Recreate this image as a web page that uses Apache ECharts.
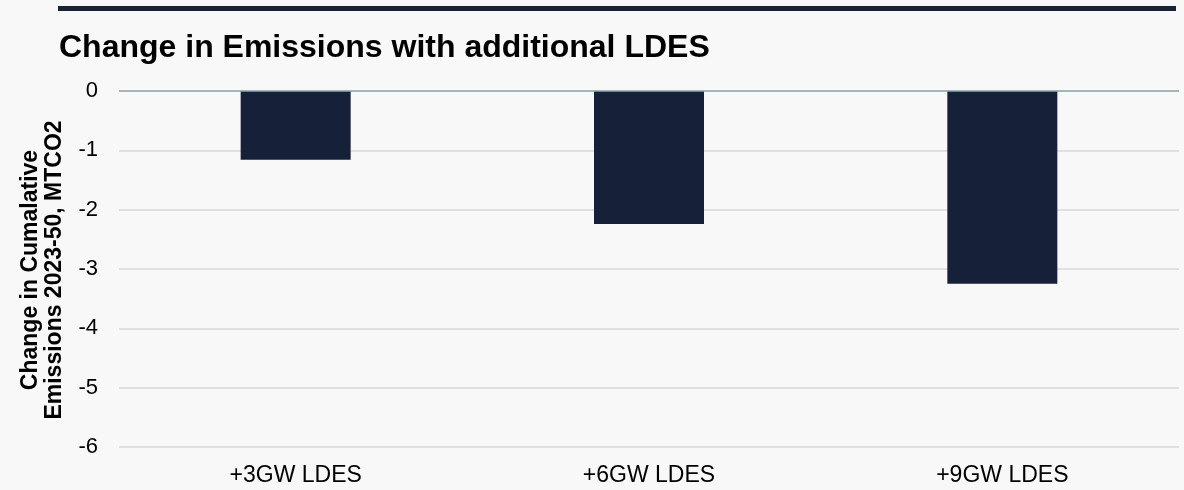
<!DOCTYPE html>
<html>
<head>
<meta charset="utf-8">
<script src="https://cdn.jsdelivr.net/npm/echarts@6/dist/echarts.min.js"></script>
<style>
html,body{margin:0;padding:0;background:#f8f8f8;}
#chart{width:1184px;height:490px;}
</style>
</head>
<body>
<div id="chart"></div>
<script>
const categories = ['+3GW LDES', '+6GW LDES', '+9GW LDES'];
const values = [-1.16, -2.24, -3.25];
const yTicks = [0, -1, -2, -3, -4, -5, -6];

const FONT = '"Liberation Sans", Arial, sans-serif';
const chart = echarts.init(document.getElementById('chart'));
chart.setOption({
  backgroundColor: '#f8f8f8',
  animation: false,
  graphic: [{
    type: 'rect',
    shape: { x: 58, y: 6, width: 1118, height: 5 },
    style: { fill: '#1a2238' }
  }, {
    type: 'text',
    rotation: Math.PI / 2,
    x: 43, y: 270,
    style: {
      text: 'Change in Cumalative\nEmissions 2023-50, MTCO2',
      font: 'bold 23px ' + FONT,
      fill: '#000',
      align: 'center',
      verticalAlign: 'middle',
      lineHeight: 24,
      x: 0, y: 0
    }
  }],
  title: {
    text: 'Change in Emissions with additional LDES',
    left: 54, top: 27,
    textStyle: { fontFamily: FONT, fontWeight: 'bold', fontSize: 32, color: '#000' }
  },
  grid: { left: 119, right: 5, top: 91, bottom: 490 - 447, containLabel: false },
  xAxis: {
    type: 'category',
    data: categories,
    position: 'bottom',
    axisLine: { show: false },
    axisTick: { show: false },
    axisLabel: { color: '#000', fontSize: 23, fontFamily: FONT, margin: 17 }
  },
  yAxis: {
    type: 'value',
    min: -6, max: 0, interval: 1,
    axisLine: { show: false },
    axisTick: { show: false },
    axisLabel: {
      color: '#000', fontSize: 22, fontFamily: FONT, margin: 21,
      formatter: v => yTicks.includes(v) ? String(v) : ''
    },
    splitLine: { lineStyle: { color: '#d9d9d9', width: 1.5 } }
  },
  series: [{
    type: 'bar',
    data: values,
    barWidth: 110,
    itemStyle: { color: '#162038' },
    markLine: {
      silent: true, symbol: 'none', label: { show: false },
      lineStyle: { color: '#8fa8ae', width: 1.5, type: 'solid' },
      data: [{ yAxis: 0 }]
    }
  }]
});
</script>
</body>
</html>
